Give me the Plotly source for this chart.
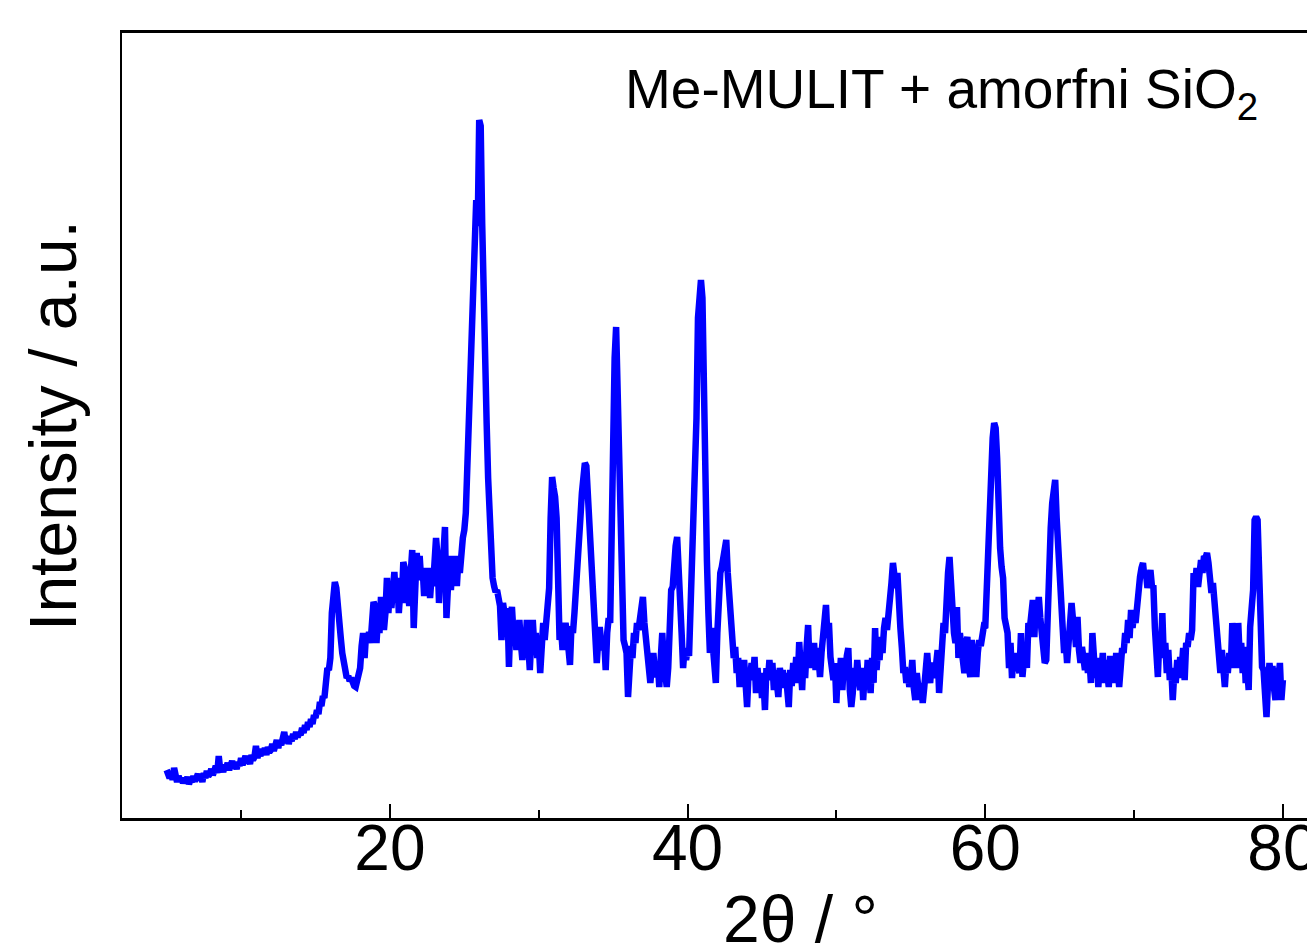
import plotly.graph_objects as go

two_theta_start = 5.0
two_theta_step = 0.1
intensity = [
    48, 44, 40, 46, 38, 50, 41, 36, 42, 37,
    40, 35, 39, 36, 41, 34, 38, 36, 42, 37,
    40, 44, 38, 42, 36, 45, 40, 47, 42, 44,
    49, 43, 47, 52, 45, 62, 48, 51, 46, 53,
    50, 55, 48, 53, 57, 50, 54, 49, 56, 52,
    60, 53, 57, 62, 55, 59, 54, 63, 58, 61,
    72, 60, 66, 62, 69, 64, 70, 63, 71, 66,
    68, 74, 67, 72, 78, 70, 76, 73, 79, 86,
    75, 82, 74, 80, 77, 84, 79, 86, 81, 85,
    83, 90, 85, 93, 88, 96, 91, 99, 94, 103,
    100, 108, 104, 116, 112, 122, 120, 132, 150, 148,
    160, 205, 222, 236, 230, 205, 198, 180, 165, 152,
    146, 140, 142, 137, 140, 135, 132, 131, 140, 150,
    150, 172, 185, 160, 185, 178, 186, 175, 195, 216,
    212, 175, 200, 185, 221, 195, 188, 205, 240, 205,
    232, 210, 238, 246, 220, 240, 205, 228, 215, 256,
    250, 215, 228, 212, 245, 268, 190, 262, 265, 250,
    262, 238, 250, 222, 245, 228, 250, 220, 242, 232,
    270, 280, 262, 215, 248, 238, 265, 291, 200, 250,
    262, 228, 255, 240, 262, 232, 258, 245, 268, 280,
    288, 305, 350, 395, 430, 480, 540, 605, 618, 592,
    698, 692, 595, 495, 440, 395, 340, 298, 262, 240,
    232, 226, 228, 220, 212, 178, 215, 205, 196, 210,
    151, 200, 211, 185, 192, 168, 190, 198, 175, 158,
    182, 170, 198, 165, 148, 180, 198, 172, 185, 160,
    176, 145, 168, 195, 178, 198, 218, 230, 300, 341,
    330, 321, 300, 250, 178, 190, 168, 185, 195, 185,
    172, 153, 192, 185, 205, 225, 240, 268, 300, 325,
    348, 355, 352, 322, 305, 250, 235, 195, 185, 155,
    178, 191, 175, 168, 178, 148, 185, 200, 195, 300,
    418, 460, 491, 430, 318, 260, 225, 178, 172, 165,
    121, 150, 172, 160, 185, 175, 195, 188, 205, 212,
    221, 195, 180, 160, 150, 135, 152, 165, 148, 141,
    155, 131, 160, 185, 158, 140, 131, 150, 200, 228,
    231, 262, 272, 281, 235, 215, 185, 150, 170, 158,
    168, 162, 210, 225, 270, 311, 400, 500, 535, 538,
    520, 400, 320, 258, 205, 165, 190, 165, 150, 135,
    185, 225, 245, 251, 262, 270, 278, 245, 220, 185,
    170, 160, 171, 145, 160, 131, 150, 140, 158, 120,
    111, 145, 138, 155, 142, 161, 125, 150, 132, 145,
    120, 138, 108, 150, 138, 158, 142, 155, 128, 148,
    135, 121, 150, 140, 148, 130, 145, 128, 111, 148,
    132, 155, 140, 161, 135, 176, 150, 128, 165, 140,
    171, 193, 150, 168, 155, 175, 148, 170, 160, 141,
    165, 185, 200, 213, 180, 195, 161, 150, 138, 155,
    115, 150, 135, 160, 128, 155, 140, 162, 170, 128,
    111, 125, 150, 132, 158, 140, 128, 150, 118, 145,
    130, 158, 140, 125, 160, 135, 190, 148, 170, 158,
    181, 165, 190, 200, 188, 211, 215, 235, 255, 238,
    230, 245, 205, 190, 170, 145, 151, 135, 145, 131,
    140, 158, 130, 118, 145, 128, 118, 135, 115, 130,
    148, 165, 145, 135, 155, 151, 140, 160, 168, 125,
    150, 175, 195, 185, 241, 245, 261, 230, 200, 185,
    175, 211, 160, 185, 170, 155, 145, 175, 181, 150,
    141, 178, 160, 170, 141, 165, 178, 172, 185, 191,
    190, 235, 265, 300, 340, 380, 395, 390, 360, 302,
    270, 251, 240, 200, 190, 185, 150, 175, 140, 165,
    150, 165, 152, 145, 185, 141, 158, 175, 150, 195,
    190, 212, 218, 181, 215, 205, 221, 200, 185, 170,
    155, 158, 215, 228, 290, 315, 335, 338, 300, 265,
    245, 225, 191, 165, 178, 155, 185, 200, 215, 198,
    190, 171, 201, 168, 155, 171, 160, 148, 165, 145,
    160, 135, 185, 150, 140, 160, 131, 155, 145, 165,
    135, 158, 140, 131, 162, 145, 155, 135, 165, 140,
    131, 150, 170, 165, 185, 175, 198, 180, 208, 190,
    205, 195, 215, 236, 241, 250, 255, 240, 245, 230,
    240, 248, 232, 231, 190, 168, 141, 180, 165, 205,
    160, 175, 145, 168, 138, 150, 118, 145, 135, 158,
    140, 161, 150, 170, 138, 175, 171, 185, 178, 188,
    245, 235, 250, 231, 251, 258, 245, 262, 260, 265,
    255, 241, 225, 235, 218, 190, 175, 160, 145, 168,
    150, 131, 155, 145, 165, 150, 195, 170, 185, 150,
    195, 160, 175, 145, 171, 135, 150, 128, 191, 218,
    228, 298, 301, 298, 240, 170, 151, 148, 130, 101,
    135, 155, 141, 152, 130, 118, 150, 140, 155, 118,
    138,
]
two_theta = [round(two_theta_start + two_theta_step * i, 1) for i in range(len(intensity))]

major_ticks = [20, 40, 60, 80]
major_tick_labels = ["20", "40", "60", "80"]
minor_ticks = [10, 30, 50, 70]

title_text = "Me-MULIT + amorfni SiO<sub>2</sub>"
x_title = "2θ / °"
y_title = "Intensity / a.u."

FONT = "Liberation Sans, Arial, Helvetica, sans-serif"

fig = go.Figure()
fig.add_trace(go.Scatter(
    x=two_theta, y=intensity, mode="lines",
    line=dict(color="rgb(0,0,255)", width=6.5),
    showlegend=False, hoverinfo="x+y",
))

fig.update_layout(
    width=1307, height=946,
    margin=dict(l=122, r=0, t=33, b=128, pad=0, autoexpand=False),
    paper_bgcolor="white", plot_bgcolor="white",
    font=dict(family=FONT, color="black"),
    showlegend=False,
)

fig.update_xaxes(
    range=[2.0, 81.62],
    automargin=False,
    showline=True, linecolor="black", linewidth=3, mirror=True,
    ticks="inside", ticklen=14, tickwidth=2, tickcolor="black",
    tickvals=major_ticks, ticktext=major_tick_labels,
    minor=dict(tickvals=minor_ticks, ticks="inside", ticklen=8, tickwidth=2, tickcolor="black"),
    tickfont=dict(family=FONT, size=64, color="black"),
    ticklabelstandoff=-28,
    ticklabeloverflow="allow",
    showgrid=False, zeroline=False,
)

fig.update_yaxes(
    range=[0, 785],
    automargin=False,
    showline=True, linecolor="black", linewidth=2,
    showticklabels=False, ticks="",
    showgrid=False, zeroline=False,
    title=dict(text=y_title, font=dict(family=FONT, size=66, color="black"), standoff=22),
)

fig.add_annotation(
    text=x_title, xref="x", yref="paper", x=47.6, y=0,
    xanchor="center", yanchor="top", yshift=-62, showarrow=False,
    font=dict(family=FONT, size=66, color="black"),
)

fig.add_annotation(
    text=title_text, xref="paper", yref="paper", x=0.4228, y=1,
    xanchor="left", yanchor="top", yshift=-23, showarrow=False,
    font=dict(family=FONT, size=55, color="black"),
)

fig.write_html("out.html")
